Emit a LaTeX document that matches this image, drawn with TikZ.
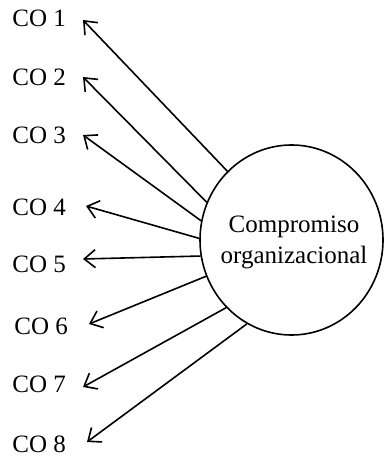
\documentclass[tikz,border=0pt]{standalone}
\usepackage{fontspec}
\setmainfont{Liberation Serif}
\usetikzlibrary{arrows.meta,shapes.geometric,positioning}
\tikzset{
	colabel/.style={anchor=west,inner sep=0pt,font=\fontsize{12.5}{14}\selectfont},
	coarrow/.style={-{Straight Barb[length=5.5pt,width=9pt]},line width=0.8pt},
}
\begin{document}
\begin{tikzpicture}[x=0.5pt,y=-0.5pt]
		\useasboundingbox (0,0) rectangle (385,458);
		\node[draw,ellipse,line width=0.8pt,minimum width=91.5pt,minimum height=95pt,inner sep=0pt] (comp) at (291.5,240) {};
		\node[align=center,font=\fontsize{12.5}{15.5}\selectfont] (comptext) at (294,242) {Compromiso\\organizacional};
		% labels
		\node[colabel] (co1) at (12,18) {CO 1};
		\node[colabel] (co2) at (12,77) {CO 2};
		\node[colabel] (co3) at (12,135) {CO 3};
		\node[colabel] (co4) at (12,207) {CO 4};
		\node[colabel] (co5) at (12,264) {CO 5};
		\node[colabel] (co6) at (14,326) {CO 6};
		\node[colabel] (co7) at (12,384) {CO 7};
		\node[colabel] (co8) at (12,444) {CO 8};
		% arrow tips next to the labels
		\coordinate (t1) at (83,20);
		\coordinate (t2) at (83,77);
		\coordinate (t3) at (83,135);
		\coordinate (t4) at (86,206);
		\coordinate (t5) at (83,259);
		\coordinate (t6) at (89,324);
		\coordinate (t7) at (83,387);
		\coordinate (t8) at (87,442);
		\draw[coarrow] (comp.133.5) -- (t1);
		\draw[coarrow] (comp.156) -- (t2);
		\draw[coarrow] (comp.168.8) -- (t3);
		\draw[coarrow] (comp.179.4) -- (t4);
		\draw[coarrow] (comp.190.9) -- (t5);
		\draw[coarrow] (comp.203.7) -- (t6);
		\draw[coarrow] (comp.226.5) -- (t7);
		\draw[coarrow] (comp.242.9) -- (t8);
	\end{tikzpicture}
\end{document}
